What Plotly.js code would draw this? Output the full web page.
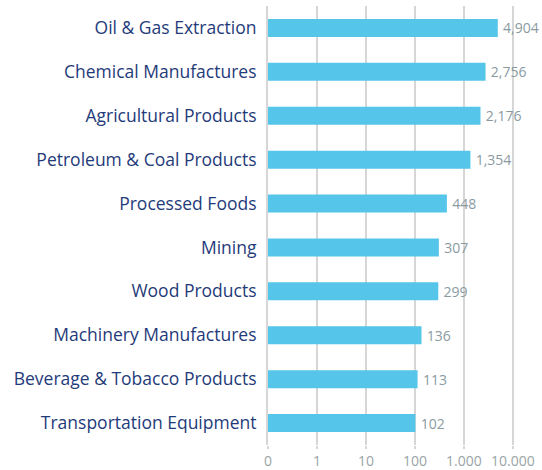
<!DOCTYPE html>
<html>
<head>
<meta charset="utf-8">
<script src="https://cdn.plot.ly/plotly-3.0.1.min.js"></script>
<style>html,body{margin:0;padding:0;background:#fff;}#chart{width:542px;height:470px;}</style>
</head>
<body>
<div id="chart"></div>
<script>
const categories = ["Oil & Gas Extraction","Chemical Manufactures","Agricultural Products","Petroleum & Coal Products","Processed Foods","Mining","Wood Products","Machinery Manufactures","Beverage & Tobacco Products","Transportation Equipment"];
const values = [4904,2756,2176,1354,448,307,299,136,113,102];
const tickValues = [0.1,1,10,100,1000,10000];
const tickLabels = ["0","1","10","100","1.000","10.000"];

const trace = {
  type: "bar",
  orientation: "h",
  y: categories,
  x: values,
  marker: {color: "#55c5ea"},
  text: values.map(v => "\u2009" + v.toLocaleString("en-US")),
  textposition: "outside",
  constraintext: "none",
  textfont: {family: "Open Sans, sans-serif", size: 14, color: "#8a9aa1"},
  cliponaxis: false,
  hoverinfo: "none"
};

const layout = {
  width: 542, height: 470,
  margin: {l: 268, r: 7, t: 6, b: 25},
  paper_bgcolor: "#fff", plot_bgcolor: "#fff",
  bargap: 0.59,
  showlegend: false,
  font: {family: "Open Sans, sans-serif"},
  xaxis: {
    type: "log",
    range: [-1, 4.45],
    tickvals: tickValues,
    ticktext: tickLabels,
    showgrid: true, gridcolor: "#d6d6d6", gridwidth: 2,
    ticks: "outside", ticklen: 3, tickcolor: "#d6d6d6", tickwidth: 2,
    tickfont: {size: 14, color: "#9aa4a8"},
    zeroline: false, showline: false, fixedrange: true
  },
  yaxis: {
    type: "category",
    autorange: "reversed",
    tickfont: {size: 17.5, color: "#1f3b7a"},
    ticklabelstandoff: 6,
    showline: true, linecolor: "#d6d6d6", linewidth: 2,
    showgrid: false, zeroline: false, fixedrange: true
  }
};

Plotly.newPlot("chart", [trace], layout, {displayModeBar: false, staticPlot: true});
</script>
</body>
</html>
